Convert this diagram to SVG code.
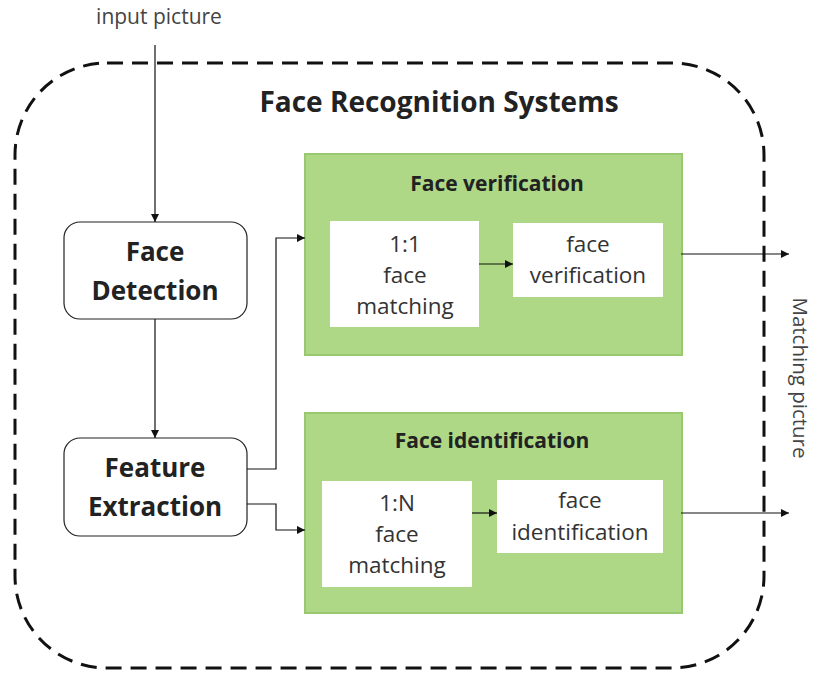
<svg xmlns="http://www.w3.org/2000/svg" width="815" height="675" viewBox="0 0 815 675">
  <defs>
    <marker id="arrow" viewBox="0 0 10 10" refX="10" refY="5" markerWidth="8" markerHeight="8" markerUnits="userSpaceOnUse" orient="auto">
      <path d="M0,0 L10,5 L0,10 z" fill="#111"/>
    </marker>
    <style>
      text { font-family: "Open Sans", "Liberation Sans", sans-serif; fill: #222; }
      .bold { font-weight: bold; }
      .big { font-size: 26px; }
      .mid { font-size: 21px; }
      .reg { font-size: 22.5px; fill: #333; }
      .small { font-size: 21px; fill: #444; }
      .side { font-size: 20.5px; fill: #444; }
      .plain { fill: #fff; stroke: #222; stroke-width: 1.2; }
      .green { fill: #AED885; stroke: #98C970; stroke-width: 2; }
      .white { fill: #fff; }
      .wire { fill: none; stroke: #111; stroke-width: 1.2; }
    </style>
  </defs>
  <rect width="815" height="675" fill="#fff"/>

  <!-- system boundary -->
  <g id="system">
    <rect x="15" y="63" width="749" height="605" rx="92" ry="92" fill="none" stroke="#111" stroke-width="3" stroke-dasharray="16,9"/>
    <text class="bold" x="439" y="112" text-anchor="middle" font-size="28">Face Recognition Systems</text>
  </g>

  <text id="input-label" class="small" x="159" y="24" text-anchor="middle">input picture</text>
  <text id="output-label" class="side" x="793" y="378" text-anchor="middle" transform="rotate(90 793 378)">Matching picture</text>

  <g id="face-detection">
    <rect class="plain" x="64" y="222" width="183" height="97" rx="16"/>
    <text class="bold big" x="155" y="261" text-anchor="middle">Face</text>
    <text class="bold big" x="155" y="300" text-anchor="middle">Detection</text>
  </g>

  <g id="feature-extraction">
    <rect class="plain" x="64" y="438" width="183" height="98" rx="16"/>
    <text class="bold big" x="155" y="477" text-anchor="middle">Feature</text>
    <text class="bold big" x="155" y="516" text-anchor="middle">Extraction</text>
  </g>

  <g id="face-verification">
    <rect class="green" x="305" y="154" width="377" height="201"/>
    <text class="bold mid" x="497" y="191" text-anchor="middle">Face verification</text>
  </g>
  <g id="match-1to1">
    <rect class="white" x="330" y="221" width="149" height="106"/>
    <text class="reg" x="405" y="252" text-anchor="middle">1:1</text>
    <text class="reg" x="405" y="283" text-anchor="middle">face</text>
    <text class="reg" x="405" y="314" text-anchor="middle">matching</text>
  </g>
  <g id="verify-result">
    <rect class="white" x="513" y="223" width="150" height="74"/>
    <text class="reg" x="588" y="252" text-anchor="middle">face</text>
    <text class="reg" x="588" y="283" text-anchor="middle">verification</text>
  </g>

  <g id="face-identification">
    <rect class="green" x="305" y="413" width="377" height="200"/>
    <text class="bold mid" x="492" y="448" text-anchor="middle">Face identification</text>
  </g>
  <g id="match-1toN">
    <rect class="white" x="322" y="481" width="150" height="106"/>
    <text class="reg" x="397" y="511" text-anchor="middle">1:N</text>
    <text class="reg" x="397" y="542" text-anchor="middle">face</text>
    <text class="reg" x="397" y="573" text-anchor="middle">matching</text>
  </g>
  <g id="identify-result">
    <rect class="white" x="497" y="480" width="166" height="73"/>
    <text class="reg" x="580" y="508" text-anchor="middle">face</text>
    <text class="reg" x="580" y="540" text-anchor="middle">identification</text>
  </g>

  <g id="connectors">
    <path class="wire" d="M155,45 V222" marker-end="url(#arrow)"/>
    <path class="wire" d="M155,319 V438" marker-end="url(#arrow)"/>
    <path class="wire" d="M247,469 H276 V238 H305" marker-end="url(#arrow)"/>
    <path class="wire" d="M247,504 H276 V530 H305" marker-end="url(#arrow)"/>
    <path class="wire" d="M479,264 H513" marker-end="url(#arrow)"/>
    <path class="wire" d="M472,513 H497" marker-end="url(#arrow)"/>
    <path class="wire" d="M681,254 H789" marker-end="url(#arrow)"/>
    <path class="wire" d="M681,513 H789" marker-end="url(#arrow)"/>
  </g>
</svg>
